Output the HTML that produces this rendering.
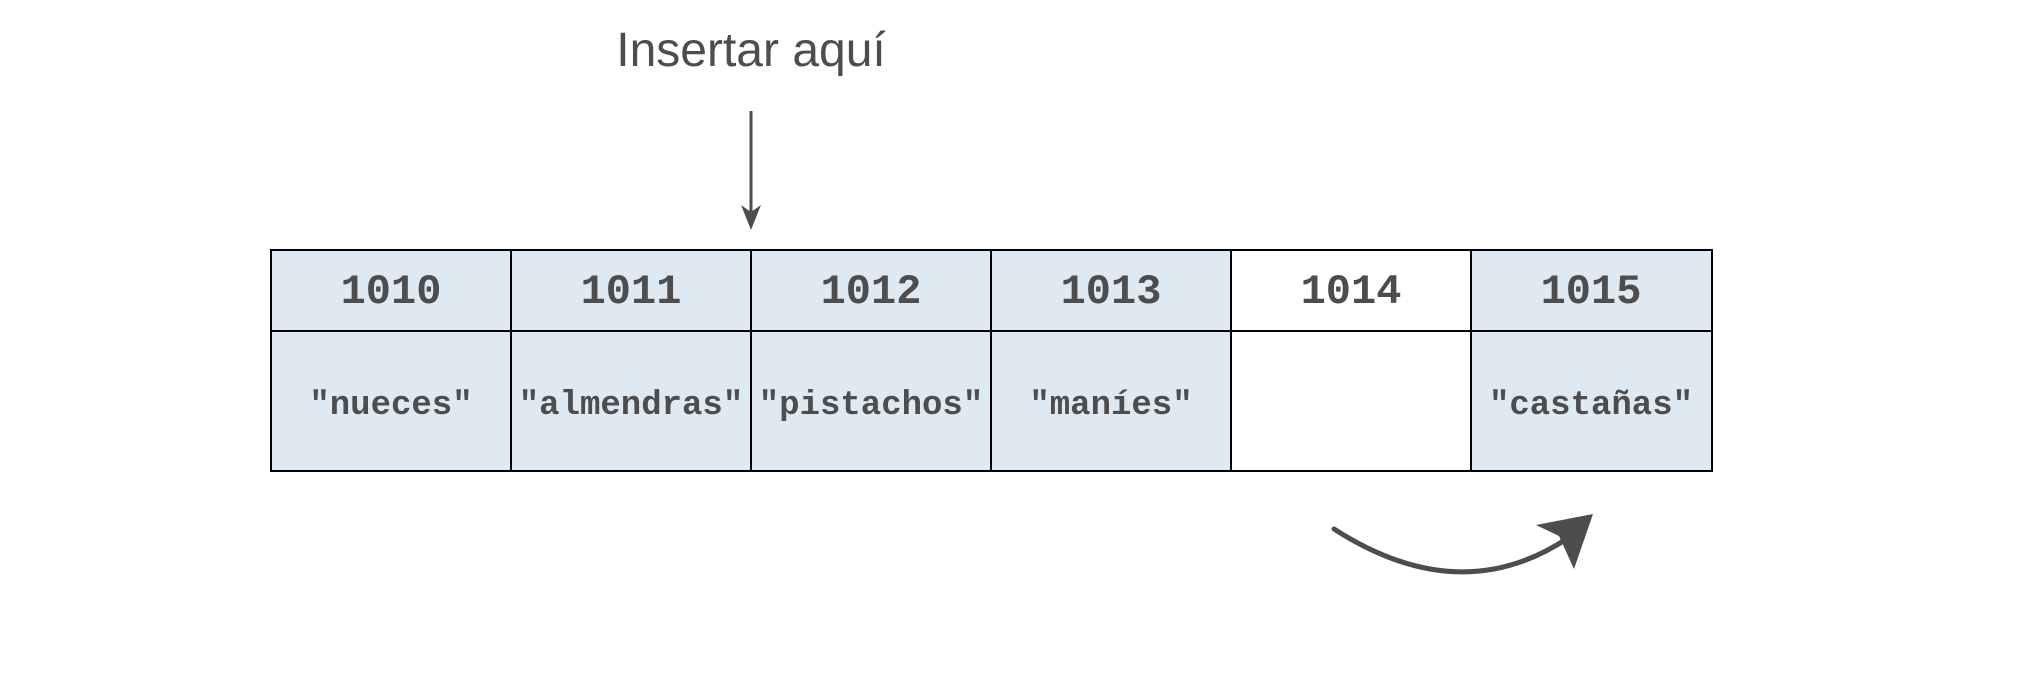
<!DOCTYPE html>
<html><head><meta charset="utf-8"><style>
body{margin:0;width:2042px;height:680px;background:#fff;overflow:hidden;position:relative}
</style></head><body>
<svg width="2042" height="680" xmlns="http://www.w3.org/2000/svg" style="position:absolute;left:0;top:0">
<text x="751" y="66" text-anchor="middle" font-family="Liberation Sans, sans-serif" font-size="48" fill="#4d4d4d">Insertar aquí</text>
<line x1="751" y1="111" x2="751" y2="218" stroke="#4d4d4d" stroke-width="3"/>
<polygon points="741,205 751,230 761,205 751,212" fill="#4d4d4d"/>
<g stroke="#000" stroke-width="2">
<rect x="271" y="250" width="240" height="81" fill="#dfe9f1"/>
<rect x="511" y="250" width="240" height="81" fill="#dfe9f1"/>
<rect x="751" y="250" width="240" height="81" fill="#dfe9f1"/>
<rect x="991" y="250" width="240" height="81" fill="#dfe9f1"/>
<rect x="1231" y="250" width="240" height="81" fill="#fff"/>
<rect x="1471" y="250" width="241" height="81" fill="#dfe9f1"/>
<rect x="271" y="331" width="240" height="140" fill="#dfe9f1"/>
<rect x="511" y="331" width="240" height="140" fill="#dfe9f1"/>
<rect x="751" y="331" width="240" height="140" fill="#dfe9f1"/>
<rect x="991" y="331" width="240" height="140" fill="#dfe9f1"/>
<rect x="1231" y="331" width="240" height="140" fill="#fff"/>
<rect x="1471" y="331" width="241" height="140" fill="#dfe9f1"/>
</g>
<g font-family="Liberation Mono, monospace" font-weight="bold" font-size="42" fill="#4d4d4d" text-anchor="middle">
<text x="391" y="303">1010</text><text x="631" y="303">1011</text><text x="871" y="303">1012</text>
<text x="1111" y="303">1013</text><text x="1351" y="303">1014</text><text x="1591" y="303">1015</text>
</g>
<g font-family="Liberation Mono, monospace" font-weight="bold" font-size="34" fill="#4d4d4d" text-anchor="middle">
<text x="391" y="414">"nueces"</text><text x="631" y="414">"almendras"</text><text x="871" y="414">"pistachos"</text>
<text x="1111" y="414">"maníes"</text><text x="1591" y="414">"castañas"</text>
</g>
<path d="M1334,529 Q1460,610 1568,538" fill="none" stroke="#4d4d4d" stroke-width="5" stroke-linecap="round"/>
<polygon points="1593,514 1536,525 1559,536 1574,569" fill="#4d4d4d"/>
</svg>
</body></html>
